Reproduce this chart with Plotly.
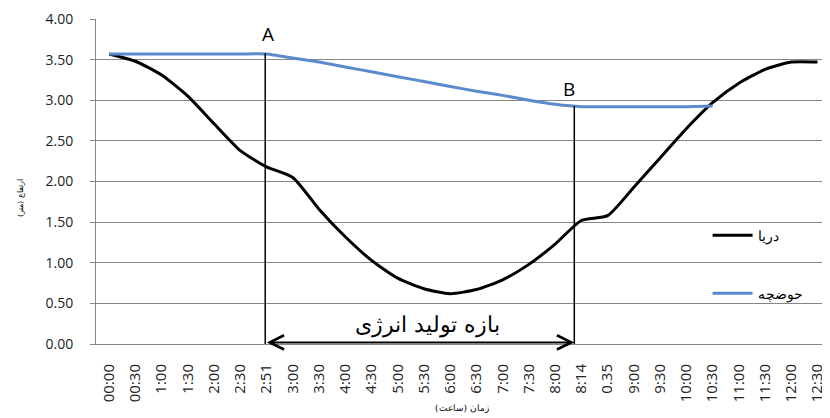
import plotly.graph_objects as go

categories = ["00:00", "00:30", "1:00", "1:30", "2:00", "2:30", "2:51", "3:00", "3:30", "4:00",
              "4:30", "5:00", "5:30", "6:00", "6:30", "7:00", "7:30", "8:00", "8:14", "0.35",
              "9:00", "9:30", "10:00", "10:30", "11:00", "11:30", "12:00", "12:30"]

sea = [3.57, 3.48, 3.31, 3.05, 2.71, 2.38, 2.18, 2.05, 1.66, 1.32,
       1.03, 0.81, 0.68, 0.62, 0.67, 0.79, 0.98, 1.23, 1.52, 1.58,
       1.93, 2.29, 2.65, 2.97, 3.21, 3.38, 3.47, 3.47]

pond = [3.57, 3.57, 3.57, 3.57, 3.57, 3.57, 3.57, 3.52, 3.47, 3.41,
        3.35, 3.29, 3.23, 3.17, 3.11, 3.06, 3.00, 2.95, 2.92, 2.92,
        2.92, 2.92, 2.92, 2.93]

sea_name = "دریا"
pond_name = "حوضچه"
x_title = "زمان (ساعت)"
y_title = "ارتفاع (متر)"
range_label = "بازه تولید انرژی"
point_a = ("A", 5.95, 3.58)
point_b = ("B", 17.73, 2.93)

fig = go.Figure()
fig.add_trace(go.Scatter(x=categories, y=sea, mode="lines", name=sea_name,
                         line=dict(color="#000000", width=3, shape="spline", smoothing=0.6),
                         legendgroup="a"))
fig.add_trace(go.Scatter(x=categories[:len(pond)], y=pond, mode="lines", name=pond_name,
                         line=dict(color="#5A8ACB", width=3, shape="spline", smoothing=0.4),
                         legendgroup="b"))

# vertical markers A and B
for lab, xv, yv in (point_a, point_b):
    fig.add_shape(type="line", xref="x", yref="y", x0=xv, x1=xv, y0=yv, y1=-0.05,
                  line=dict(color="#000000", width=1.5))

# double-headed arrow
fig.add_annotation(x=point_b[1], y=0.02, ax=point_a[1], ay=0.02, xref="x", yref="y",
                   axref="x", ayref="y", text="", showarrow=True,
                   arrowhead=5, startarrowhead=5, arrowside="end+start",
                   arrowsize=1.4, startarrowsize=1.4, arrowwidth=2, arrowcolor="#000000",
                   standoff=0, startstandoff=0)
fig.add_annotation(x=(point_a[1] + point_b[1]) / 2 + 0.3, y=0.02, xref="x", yref="y",
                   text=range_label, showarrow=False, yanchor="bottom", yshift=2,
                   font=dict(size=22, color="#000000", family="DejaVu Serif, serif"))

fig.add_annotation(x=point_a[1], y=point_a[2], xref="x", yref="y", text=point_a[0],
                   showarrow=False, yanchor="bottom", yshift=4, xshift=3,
                   font=dict(size=19, color="#000000", family="Open Sans"))
fig.add_annotation(x=point_b[1], y=point_b[2], xref="x", yref="y", text=point_b[0],
                   showarrow=False, yanchor="bottom", yshift=2, xshift=-5,
                   font=dict(size=19, color="#000000", family="Open Sans"))

# axis titles
fig.add_annotation(x=-0.111, y=0.45, xref="paper", yref="paper", text=y_title,
                   textangle=-90, showarrow=False,
                   font=dict(size=8, color="#000000", family="DejaVu Serif, serif"))
fig.add_annotation(x=0.5, y=-0.222, xref="paper", yref="paper", text=x_title,
                   showarrow=False,
                   font=dict(size=9, color="#000000", family="DejaVu Serif, serif"))

# page body has an 8px margin, so the figure is sized to fit the 830x418 window
fig.update_layout(
    width=822, height=410,
    margin=dict(l=88, r=2, t=11, b=74, autoexpand=False),
    paper_bgcolor="white", plot_bgcolor="white",
    font=dict(family="Open Sans", color="#222222"),
    showlegend=True,
    legend=dict(x=0.8355, y=0.383, xanchor="left", yanchor="top",
                bgcolor="rgba(0,0,0,0)", traceorder="grouped", tracegroupgap=37,
                itemwidth=40,
                font=dict(size=14, color="#000000", family="DejaVu Serif, serif")),
)
fig.update_xaxes(type="category", range=[-0.5, 27.4], showgrid=False, automargin=False,
                 showline=True, linecolor="#868686", linewidth=1,
                 tickangle=-90, tickfont=dict(size=15, color="#222222"),
                 ticks="", ticklabelstandoff=13)
fig.update_yaxes(range=[0, 4], dtick=0.5, tickformat=".2f", automargin=False,
                 showgrid=True, gridcolor="#868686", gridwidth=1,
                 showline=True, linecolor="#868686", linewidth=1,
                 ticks="outside", ticklen=5, tickcolor="#868686",
                 tickfont=dict(size=14, color="#222222"), ticklabelstandoff=14,
                 zeroline=False)

fig.write_html("out.html")
